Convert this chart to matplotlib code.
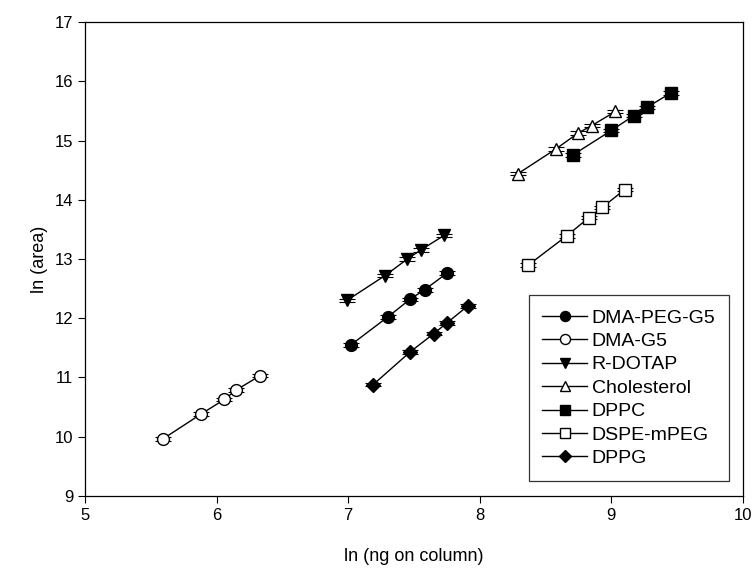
import numpy as np
import matplotlib
matplotlib.use('Agg')
import matplotlib.pyplot as plt

plt.rcParams['font.family'] = ['Liberation Sans', 'DejaVu Sans']

# ln(ng on column) vs ln(area) for each lipid / dendrimer component
dma_peg_g5_x = [7.02, 7.30, 7.47, 7.58, 7.75]
dma_peg_g5_y = [11.55, 12.02, 12.32, 12.48, 12.76]

dma_g5_x = [5.59, 5.88, 6.06, 6.15, 6.33]
dma_g5_y = [9.96, 10.38, 10.63, 10.79, 11.03]

r_dotap_x = [6.99, 7.28, 7.45, 7.55, 7.73]
r_dotap_y = [12.30, 12.72, 13.00, 13.15, 13.40]

chol_x = [8.29, 8.58, 8.75, 8.85, 9.03]
chol_y = [14.44, 14.86, 15.13, 15.25, 15.49]

dppc_x = [8.71, 9.00, 9.17, 9.27, 9.45]
dppc_y = [14.76, 15.17, 15.42, 15.56, 15.80]

dspe_x = [8.37, 8.66, 8.83, 8.93, 9.10]
dspe_y = [12.90, 13.39, 13.70, 13.87, 14.17]

dppg_x = [7.19, 7.47, 7.65, 7.75, 7.91]
dppg_y = [10.88, 11.43, 11.74, 11.92, 12.21]

yerr = 0.03

series = [
    ('DMA-PEG-G5', dma_peg_g5_x, dma_peg_g5_y, 'o', 'black'),
    ('DMA-G5', dma_g5_x, dma_g5_y, 'o', 'white'),
    ('R-DOTAP', r_dotap_x, r_dotap_y, 'v', 'black'),
    ('Cholesterol', chol_x, chol_y, '^', 'white'),
    ('DPPC', dppc_x, dppc_y, 's', 'black'),
    ('DSPE-mPEG', dspe_x, dspe_y, 's', 'white'),
    ('DPPG', dppg_x, dppg_y, 'D', 'black'),
]

fig = plt.figure(figsize=(7.54, 5.72), dpi=100)
ax = fig.add_axes([0.1127, 0.1329, 0.8727, 0.8286])

for name, x, y, m, fc in series:
    ms = 8.5 if m != 'D' else 7.0
    ax.errorbar(x, y, yerr=yerr, fmt='none', ecolor='black', elinewidth=0.8,
                capsize=6, capthick=0.8, zorder=2)
    ax.plot(x, y, '-', color='black', lw=1.0, marker=m, markersize=ms,
            markerfacecolor=fc, markeredgecolor='black', markeredgewidth=1.0,
            label=name, zorder=3)

ax.set_xlim(5, 10)
ax.set_ylim(9, 17)
ax.set_xticks(range(5, 11))
ax.set_yticks(range(9, 18))
ax.tick_params(direction='out', length=5, width=0.8, labelsize=12,
               top=False, right=False)
for s in ax.spines.values():
    s.set_linewidth(0.9)

ax.set_xlabel('ln (ng on column)', fontsize=13, labelpad=18)
ax.set_ylabel('ln (area)', fontsize=13, labelpad=5)

leg = ax.legend(loc='lower right', bbox_to_anchor=(0.979, 0.032), borderaxespad=0,
                fontsize=14, frameon=True, fancybox=False, edgecolor='black',
                handlelength=2.3, labelspacing=0.3, borderpad=0.7,
                handletextpad=0.25, markerscale=0.85)
leg.get_frame().set_linewidth(0.9)

plt.savefig('out.png', dpi=100)
